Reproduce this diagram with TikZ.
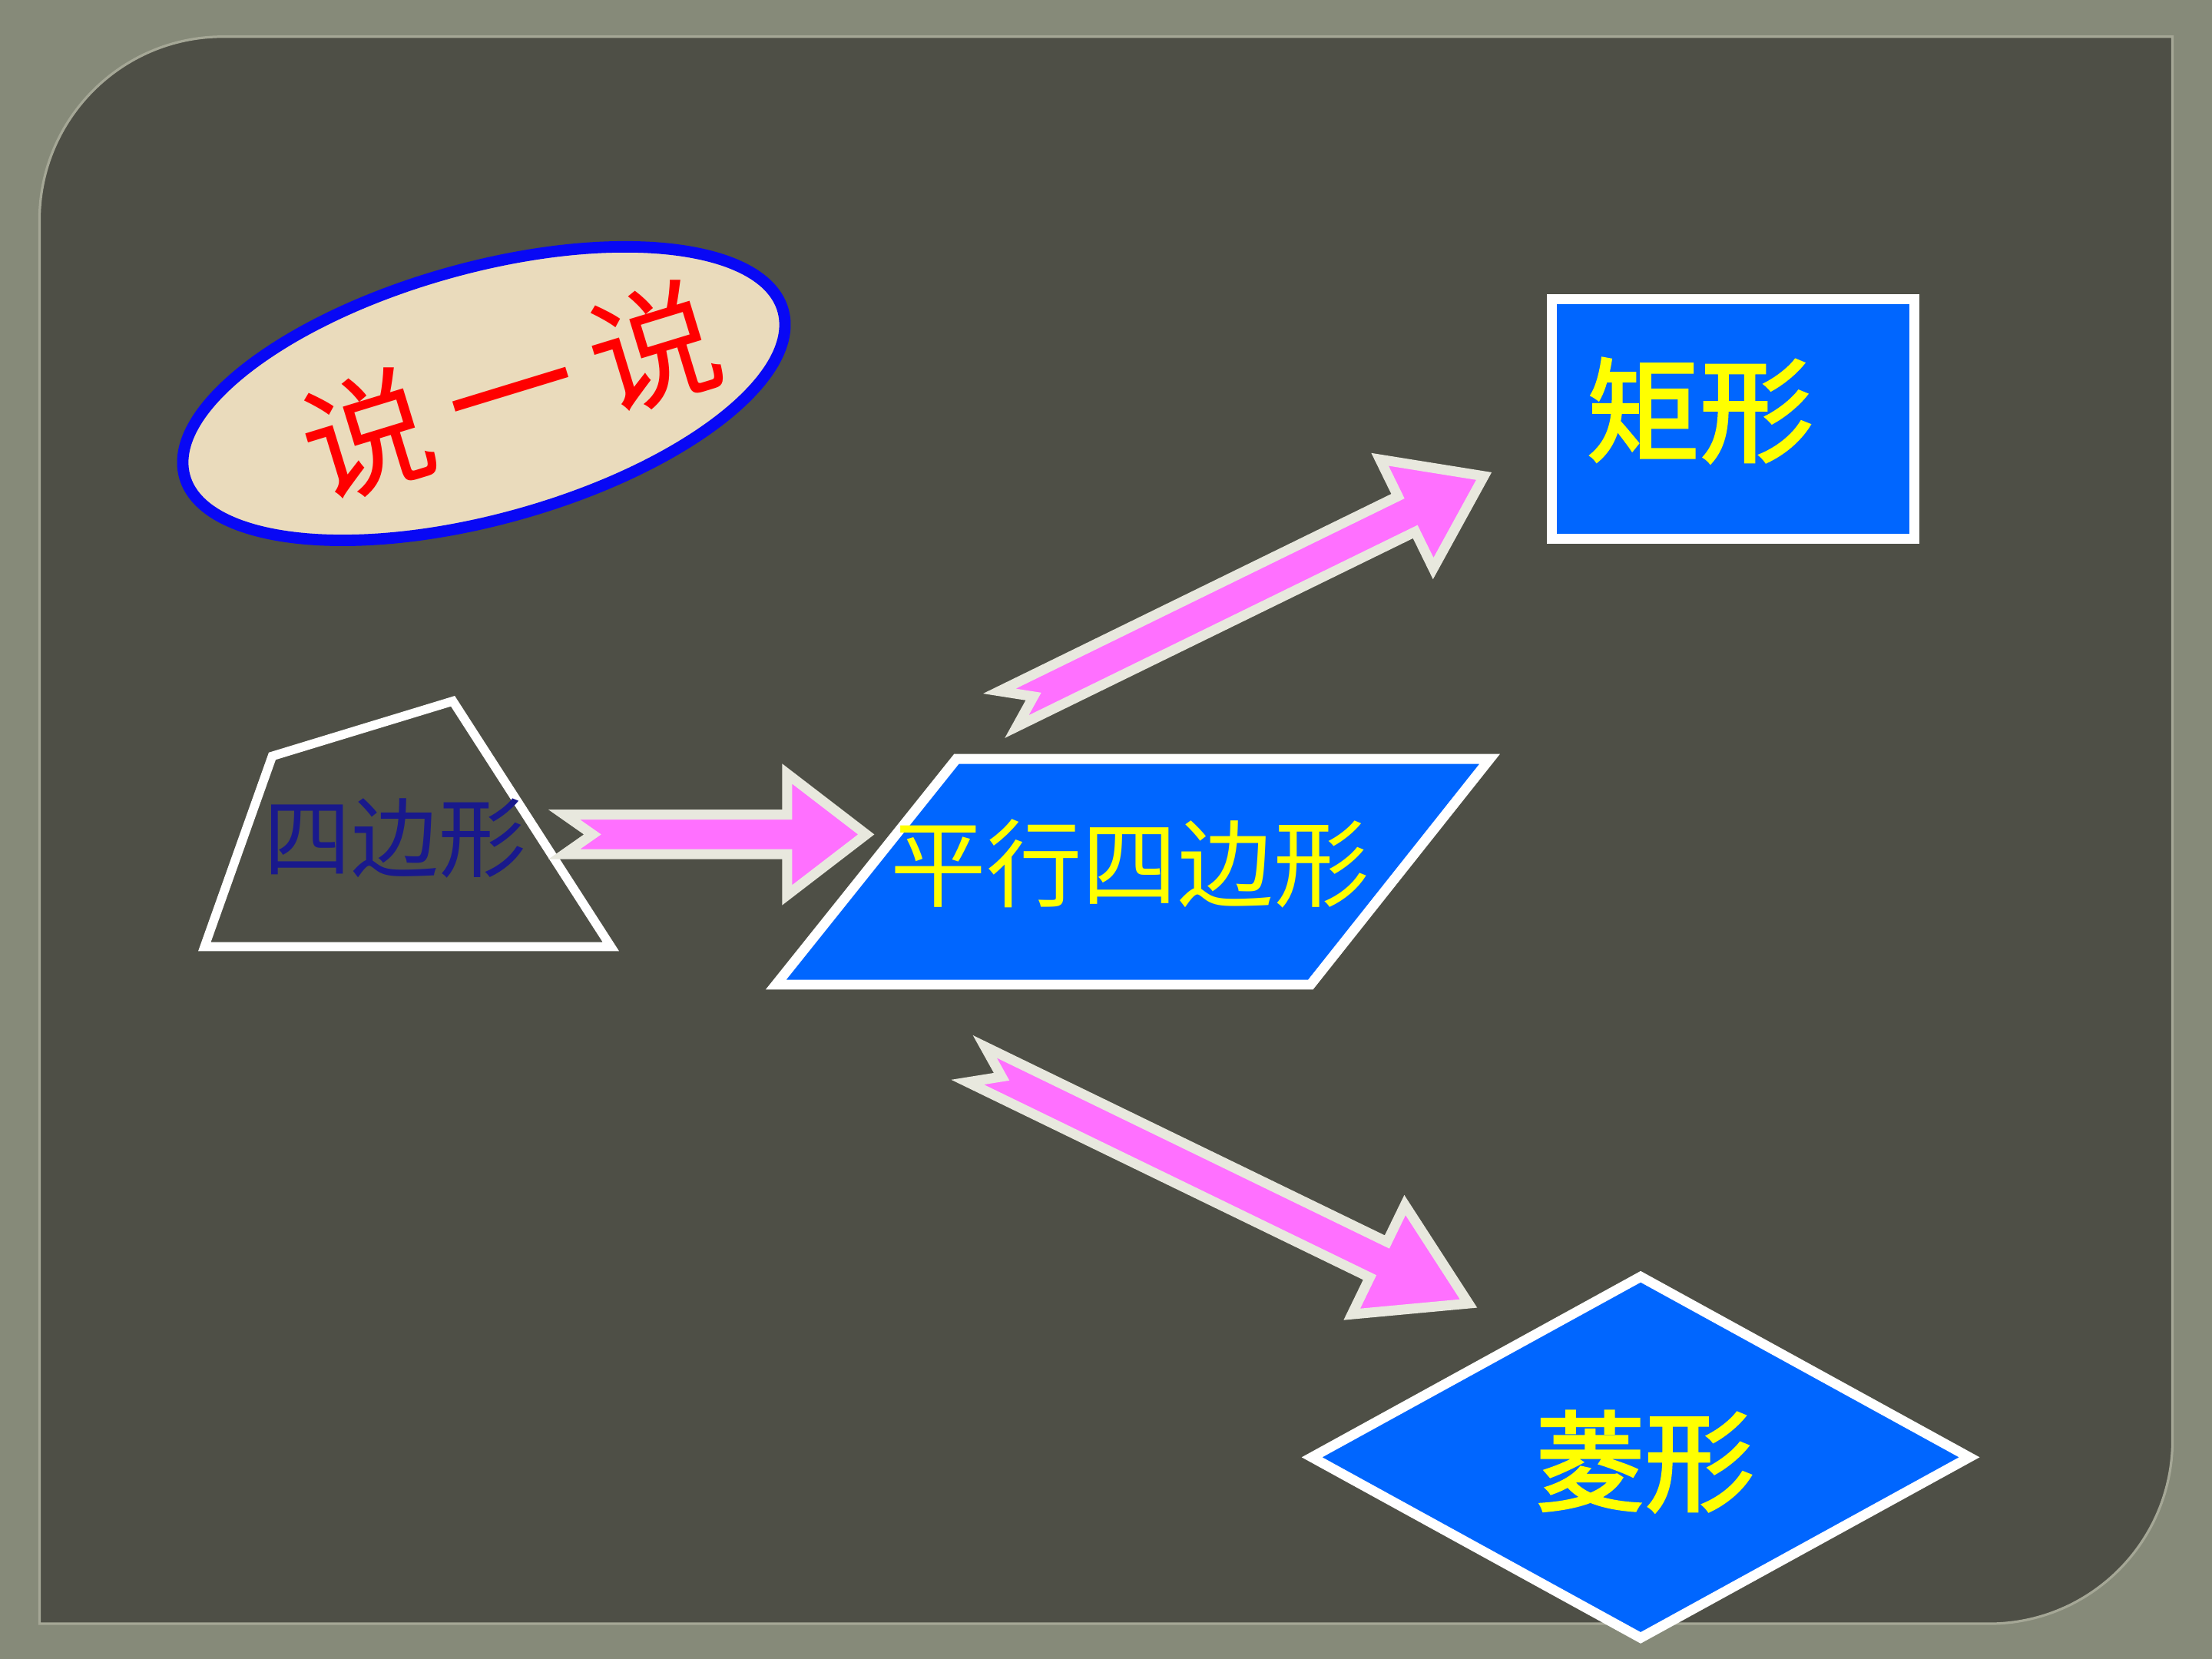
\documentclass[tikz,border=0pt]{standalone}
\usepackage{fontspec}
\newfontfamily\cjk{Noto Sans CJK SC}
\newfontfamily\cjkmed{Noto Sans CJK SC}[FakeBold=2.4]
\usetikzlibrary{calc,shapes.geometric}
\definecolor{outerbg}{RGB}{134,138,121}
\definecolor{panelbg}{RGB}{78,79,70}
\definecolor{paneledge}{RGB}{165,167,150}
\definecolor{shapeblue}{RGB}{0,102,255}
\definecolor{textyellow}{RGB}{255,255,0}
\definecolor{arrowpink}{RGB}{255,112,255}
\definecolor{arrowedge}{RGB}{232,232,222}
\definecolor{beige}{RGB}{234,219,188}
\definecolor{ringblue}{RGB}{8,8,245}
\definecolor{navy}{RGB}{25,25,140}
\definecolor{sayred}{RGB}{255,0,0}
\tikzset{
  whiteedge/.style={draw=white, line width=2pt, line join=miter},
  blueshape/.style={whiteedge, fill=shapeblue},
  fatarrowstyle/.style={draw=arrowedge, fill=arrowpink, line width=2pt, line join=miter},
  label/.style={inner sep=0pt, font=\cjk},
}
% #1 tail, #2 tip, #3 name prefix, #4 head length
\newcommand{\fatarrow}[4]{%
  \coordinate (#3base) at ($(#2)!#4!(#1)$);
  \draw[fatarrowstyle]
    ($(#1)!0.14cm!90:(#2)$) -- ($(#3base)!0.14cm!-90:(#1)$) --
    ($(#3base)!0.43cm!-90:(#1)$) -- (#2) --
    ($(#3base)!0.43cm!90:(#1)$) -- ($(#3base)!0.14cm!90:(#1)$) --
    ($(#1)!0.14cm!-90:(#2)$) -- ($(#1)!0.2cm!(#2)$) -- cycle;}
\begin{document}
\begin{tikzpicture}[x=0.01cm,y=-0.01cm]
\path[use as bounding box, fill=outerbg] (0,0) rectangle (1568,1176);
% panel
\draw[fill=panelbg, draw=paneledge, line width=0.5pt]
  (28,156) arc[start angle=180, end angle=270, radius=130] -- (1540,26)
  -- (1540,1021) arc[start angle=0, end angle=90, radius=130] -- (28,1151) -- cycle;

% speech ellipse
\node[ellipse, draw=ringblue, fill=beige, line width=2.3pt, rotate=15.5,
      minimum width=4.40cm, minimum height=1.78cm] (sayoval) at (343,279) {};
\node[label, rotate=17, text=sayred, font=\cjk\fontsize{26pt}{31pt}\selectfont]
  (saytext) at (362,277) {说\hspace{0.16em}一\hspace{0.16em}说};

% quadrilateral (trapezoid)
\coordinate (qa) at (193,536);
\coordinate (qb) at (321,497);
\coordinate (qc) at (433,671);
\coordinate (qd) at (145,671);
\draw[draw=white, line width=1.8pt, line join=miter] (qa) -- (qb) -- (qc) -- (qd) -- cycle;
\node[label, text=navy, font=\cjk\fontsize{17.6pt}{21pt}\selectfont] (quad) at (280,594) {四边形};

% parallelogram
\coordinate (pa) at (678,538);
\coordinate (pb) at (1056,538);
\coordinate (pc) at (929,698);
\coordinate (pd) at (550,698);
\draw[blueshape] (pa) -- (pb) -- (pc) -- (pd) -- cycle;
\node[label, text=textyellow, font=\cjk\fontsize{19.3pt}{23pt}\selectfont] (para) at (801,612) {平行四边形};

% rectangle
\coordinate (ra) at (1100,212);
\coordinate (rc) at (1357,382);
\draw[blueshape] (ra) rectangle (rc);
\node[label, text=textyellow, font=\cjkmed\fontsize{22.8pt}{27pt}\selectfont] (rect) at (1205,291) {矩形};

% rhombus
\coordinate (da) at (1163,905);
\coordinate (db) at (1396,1033);
\coordinate (dc) at (1163,1161);
\coordinate (dd) at (930,1033);
\draw[blueshape] (da) -- (db) -- (dc) -- (dd) -- cycle;
\node[label, text=textyellow, font=\cjkmed\fontsize{22pt}{26pt}\selectfont] (rhom) at (1166,1036) {菱形};

% arrows
\coordinate (a1t) at (400,591.5);
\coordinate (a1h) at (614,591.5);
\fatarrow{a1t}{a1h}{a1}{0.56cm}
\coordinate (a2t) at (714.6,502.5);
\coordinate (a2h) at (1051.9,337.5);
\fatarrow{a2t}{a2h}{a2}{0.61cm}
\coordinate (a3t) at (692,754.5);
\coordinate (a3h) at (1041,924);
\fatarrow{a3t}{a3h}{a3}{0.71cm}
\end{tikzpicture}
\end{document}
